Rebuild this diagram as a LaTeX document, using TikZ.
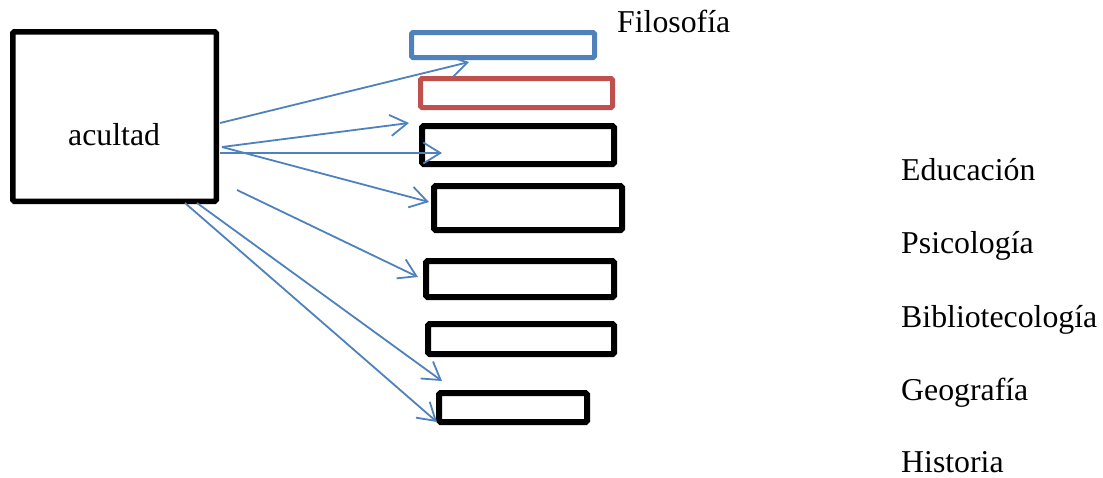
\documentclass[tikz,border=0pt]{standalone}
\usepackage{fontspec}
\setmainfont{Liberation Serif}
\usetikzlibrary{arrows.meta}
\definecolor{accblue}{HTML}{4F81BD}
\definecolor{accred}{HTML}{C0504D}
\tikzset{
  box/.style={draw=black, line width=6pt, rounded corners=1.5pt, inner sep=0pt},
  cbox/.style={box, line width=5pt},
  conn/.style={draw=accblue, line width=1.8pt, -{Straight Barb[length=17pt,width=21pt,line width=1.8pt]}},
  lbl/.style={anchor=base west, inner sep=0pt, font=\fontsize{31.8}{38}\selectfont},
}
\begin{document}
\begin{tikzpicture}[x=1pt,y=-1pt]
\useasboundingbox (0,0) rectangle (1103,477);
% boxes
\node[box, line width=5.5pt, minimum width=203.5pt, minimum height=169.5pt] (fac) at (114.5,116.5) {};
\node[cbox, draw=accblue, minimum width=183pt, minimum height=25pt] (fil) at (503,45) {};
\node[cbox, draw=accred, minimum width=192pt, minimum height=29pt] (edu) at (516.5,93) {};
\node[box, minimum width=192pt, minimum height=38pt] (psi) at (518,145) {};
\node[box, minimum width=188pt, minimum height=44pt] (bib) at (528,208) {};
\node[box, minimum width=188pt, minimum height=36pt] (geo) at (520,279) {};
\node[box, minimum width=186pt, minimum height=30pt] (his) at (521,339) {};
\node[box, minimum width=148pt, minimum height=29pt] (ext) at (513,407.5) {};
% labels
\node[lbl] (tfac) at (68,145) {acultad};
\node[lbl] (tfil) at (617,32) {Filosofía};
\node[lbl] (tedu) at (901,180) {Educación};
\node[lbl] (tpsi) at (901,253) {Psicología};
\node[lbl] (tbib) at (901,327) {Bibliotecología};
\node[lbl] (tgeo) at (901,400) {Geografía};
\node[lbl] (this) at (901,472) {Historia};
% connector ends
\coordinate (s1) at (220,123);
\coordinate (e1) at (469,62);
\coordinate (s2) at (222,147);
\coordinate (e2) at (409,123);
\coordinate (s3) at (220,153);
\coordinate (e3) at (442,153);
\coordinate (e4) at (429,202);
\coordinate (s5) at (237,190);
\coordinate (e5) at (418,277);
\coordinate (s6) at (197,203);
\coordinate (e6) at (442,381);
\coordinate (s7) at (185,203);
\coordinate (e7) at (437,422);
\draw[conn] (s1) -- (e1);
\draw[conn] (s2) -- (e2);
\draw[conn] (s3) -- (e3);
\draw[conn] (s2) -- (e4);
\draw[conn] (s5) -- (e5);
\draw[conn] (s6) -- (e6);
\draw[conn] (s7) -- (e7);
\end{tikzpicture}
\end{document}
